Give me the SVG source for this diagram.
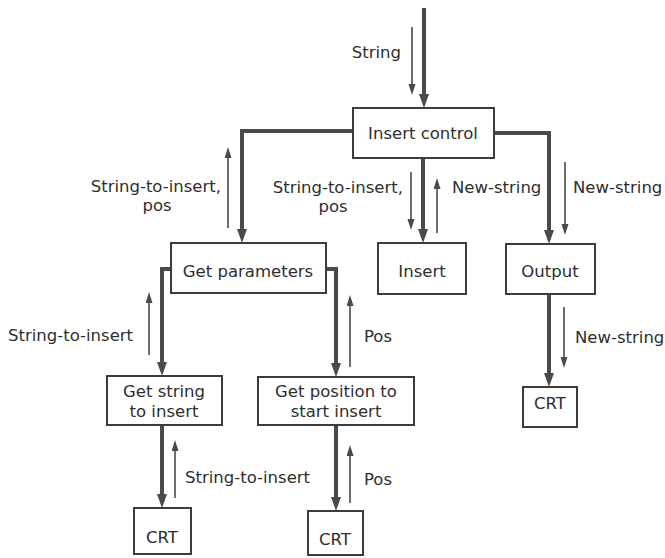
<svg xmlns="http://www.w3.org/2000/svg" width="665" height="558" viewBox="0 0 665 558">
  <style>
    .box { fill: #fff; stroke: #3c3c3c; stroke-width: 2; }
    .main { fill: none; stroke: #4a4a4a; stroke-width: 4; marker-end: url(#bigHead); }
    .flow { fill: none; stroke: #4a4a4a; stroke-width: 1.6; marker-end: url(#smallHead); }
    text { font-family: "DejaVu Sans", "Open Sans", sans-serif; font-size: 16.5px; fill: #2e2e2e; }
    .c { text-anchor: middle; }
    .e { text-anchor: end; }
  </style>
  <defs>
    <marker id="bigHead" markerUnits="userSpaceOnUse" markerWidth="16" markerHeight="12" refX="6" refY="5" orient="auto">
      <path d="M0,0 L14,5 L0,10 z" fill="#4a4a4a"/>
    </marker>
    <marker id="smallHead" markerUnits="userSpaceOnUse" markerWidth="13" markerHeight="9" refX="4" refY="3.5" orient="auto">
      <path d="M0,0 L11,3.5 L0,7 z" fill="#4a4a4a"/>
    </marker>
  </defs>

  <!-- structure-chart connectors -->
  <g id="connectors">
    <path class="main" d="M424,8 V100"/>
    <path class="main" d="M353,131 H242 V235"/>
    <path class="main" d="M423,158 V235"/>
    <path class="main" d="M494,133 H549 V236"/>
    <path class="main" d="M171,269 H162 V368"/>
    <path class="main" d="M326,269 H336 V369"/>
    <path class="main" d="M162,425 V500"/>
    <path class="main" d="M336,425 V503"/>
    <path class="main" d="M549,294 V379"/>

    <!-- data couples -->
    <path class="flow" d="M412,27 V88"/>
    <path class="flow" d="M228,228 V154"/>
    <path class="flow" d="M411,172 V223"/>
    <path class="flow" d="M437,233 V185"/>
    <path class="flow" d="M565,162 V228"/>
    <path class="flow" d="M149,355 V299"/>
    <path class="flow" d="M350,367 V302"/>
    <path class="flow" d="M175,498 V447"/>
    <path class="flow" d="M350,503 V452"/>
    <path class="flow" d="M564,307 V361"/>

    <text x="401" y="58" class="e">String</text>
    <text x="221" y="192" class="e">String-to-insert,</text>
    <text x="157" y="211" class="c">pos</text>
    <text x="403" y="193" class="e">String-to-insert,</text>
    <text x="333" y="212" class="c">pos</text>
    <text x="452" y="193">New-string</text>
    <text x="573" y="193">New-string</text>
    <text x="8" y="341">String-to-insert</text>
    <text x="364" y="342">Pos</text>
    <text x="575" y="343">New-string</text>
    <text x="185" y="483">String-to-insert</text>
    <text x="364" y="485">Pos</text>
  </g>

  <g id="insert-control">
    <rect class="box" x="353" y="108" width="141" height="50"/>
    <text x="423" y="139" class="c">Insert control</text>
  </g>
  <g id="get-parameters">
    <rect class="box" x="171" y="243" width="155" height="50"/>
    <text x="248" y="277" class="c">Get parameters</text>
  </g>
  <g id="insert">
    <rect class="box" x="378" y="243" width="88" height="51"/>
    <text x="422" y="277" class="c">Insert</text>
  </g>
  <g id="output">
    <rect class="box" x="506" y="244" width="89" height="50"/>
    <text x="550" y="277" class="c">Output</text>
  </g>
  <g id="get-string">
    <rect class="box" x="107" y="376" width="115" height="49"/>
    <text x="164" y="397" class="c">Get string</text>
    <text x="164" y="417" class="c">to insert</text>
  </g>
  <g id="get-position">
    <rect class="box" x="258" y="377" width="156" height="48"/>
    <text x="336" y="397" class="c">Get position to</text>
    <text x="336" y="417" class="c">start insert</text>
  </g>
  <g id="crt-output">
    <rect class="box" x="523" y="387" width="54" height="40"/>
    <text x="550" y="409" class="c">CRT</text>
  </g>
  <g id="crt-string">
    <rect class="box" x="134" y="508" width="57" height="46"/>
    <text x="162" y="543" class="c">CRT</text>
  </g>
  <g id="crt-position">
    <rect class="box" x="308" y="511" width="55" height="44"/>
    <text x="335" y="545" class="c">CRT</text>
  </g>
</svg>
